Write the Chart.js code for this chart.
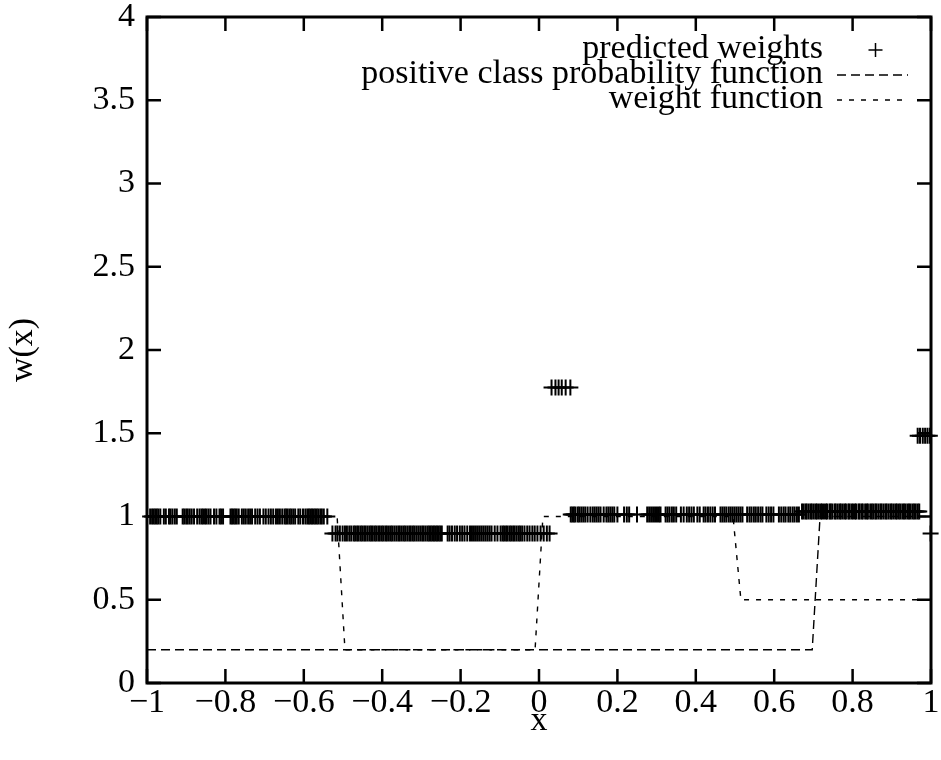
<!DOCTYPE html>
<html>
<head>
<meta charset="utf-8">
<script src="https://cdn.jsdelivr.net/npm/chart.js@4.4.1/dist/chart.umd.min.js"></script>
<style>
  html, body { margin: 0; padding: 0; background: #fff; }
  #wrap { width: 941px; height: 760px; }
</style>
</head>
<body>
<div id="wrap"><canvas id="c" width="941" height="760"></canvas></div>
<script>
// predicted weights: x positions of each cluster, and the level it sits on
const groupLeftX = [-0.992,-0.987,-0.983,-0.979,-0.975,-0.971,-0.966,-0.957,-0.952,-0.944,-0.940,-0.935,-0.929,-0.924,
  -0.909,-0.905,-0.900,-0.896,-0.891,-0.886,-0.880,-0.872,-0.866,-0.861,-0.857,-0.852,-0.848,-0.843,-0.838,-0.829,-0.823,-0.815,-0.811,-0.806,
  -0.787,-0.783,-0.779,-0.775,-0.771,-0.766,-0.758,-0.753,-0.748,-0.742,-0.737,-0.732,-0.724,-0.718,-0.712,-0.703,-0.697,-0.690,-0.684,-0.678,
  -0.671,-0.666,-0.661,-0.655,-0.649,-0.645,-0.641,-0.636,-0.632,-0.627,-0.622,-0.614,-0.609,-0.602,-0.596,-0.591,-0.587,-0.583,-0.579,-0.575,
  -0.571,-0.567,-0.563,-0.558,-0.554,-0.549,-0.540];
const groupLeftY = 1.0;

const groupLowX = [-0.527,-0.519,-0.514,-0.508,-0.501,-0.495,-0.490,-0.484,-0.479,-0.473,-0.469,-0.464,-0.460,-0.455,-0.451,-0.446,-0.442,
  -0.437,-0.432,-0.428,-0.424,-0.419,-0.415,-0.410,-0.406,-0.401,-0.397,-0.392,-0.388,-0.383,-0.378,-0.374,-0.369,-0.364,-0.359,-0.355,-0.350,
  -0.345,-0.341,-0.336,-0.331,-0.327,-0.322,-0.318,-0.313,-0.308,-0.303,-0.298,-0.294,-0.289,-0.284,-0.280,-0.276,-0.272,-0.268,-0.264,-0.260,
  -0.256,-0.252,-0.248,-0.233,-0.228,-0.222,-0.215,-0.209,-0.202,-0.196,-0.190,-0.183,-0.176,-0.171,-0.166,-0.161,-0.156,-0.151,-0.146,-0.141,
  -0.136,-0.131,-0.126,-0.121,-0.113,-0.106,-0.098,-0.093,-0.089,-0.084,-0.080,-0.075,-0.071,-0.066,-0.062,-0.057,-0.052,-0.048,-0.043,-0.037,
  -0.030,-0.024,-0.017,-0.011,-0.004,0.004,0.012,0.020,0.027];
const groupLowY = 0.898;

const groupPeakX = [0.032,0.042,0.050,0.058,0.068,0.080];
const groupPeakY = 1.775;

const groupMidX = [0.081,0.085,0.089,0.093,0.099,0.103,0.108,0.113,0.118,0.124,0.131,0.137,0.142,0.147,0.152,0.157,0.165,0.172,0.177,
  0.182,0.187,0.192,0.200,0.217,0.224,0.230,0.250,0.276,0.281,0.286,0.291,0.296,0.301,0.306,0.310,0.323,0.328,0.333,0.339,0.344,0.350,
  0.362,0.369,0.377,0.383,0.389,0.395,0.404,0.410,0.420,0.425,0.431,0.437,0.443,0.449,0.463,0.468,0.473,0.478,0.484,0.489,0.494,0.499,
  0.504,0.509,0.514,0.519,0.531,0.537,0.542,0.548,0.553,0.559,0.565,0.570,0.580,0.586,0.592,0.598,0.612,0.618,0.624,0.629,0.636,0.641,
  0.647,0.652,0.658,0.663];
const groupMidY = 1.012;

const groupRightX = [0.671,0.675,0.680,0.683,0.688,0.693,0.696,0.701,0.706,0.709,0.714,0.719,0.722,0.727,0.732,0.735,0.741,0.744,0.748,
  0.754,0.757,0.762,0.767,0.770,0.775,0.780,0.783,0.789,0.792,0.797,0.801,0.806,0.809,0.815,0.818,0.823,0.826,0.832,0.836,0.839,0.845,
  0.849,0.853,0.858,0.861,0.866,0.871,0.874,0.879,0.884,0.887,0.892,0.897,0.900,0.905,0.910,0.913,0.918,0.922,0.927,0.931,0.935,0.940,
  0.944,0.948,0.953,0.957,0.961,0.966,0.970];
const groupRightY = 1.03;

const groupEdgeHighX = [0.966,0.972,0.979,0.985,0.991,0.997];
const groupEdgeHighY = 1.485;

const groupEdgeLowX = [0.999];
const groupEdgeLowY = 0.898;

// positive class probability function
const probX = [-1, 0.697, 0.717, 1];
const probY = [0.2, 0.2, 1, 1];

// weight function
const weightX = [-1, -0.515, -0.495, -0.010, 0.010, 0.495, 0.515, 1];
const weightY = [1, 1, 0.2, 0.2, 1, 1, 0.5, 0.5];

const seriesLabels = ['predicted weights', 'positive class probability function', 'weight function'];

const FONT = 'Liberation Serif';
const FSIZE = 34;
const TICK = 14;

function level(xs, yv) { return xs.map(v => ({ x: v, y: yv })); }
function pairs(xs, ys) { return xs.map((v, i) => ({ x: v, y: ys[i] })); }
function fmt(v) { return String(Math.round(v * 10) / 10).replace('-', '\u2212'); }

const points = [].concat(
  level(groupLeftX, groupLeftY), level(groupLowX, groupLowY), level(groupPeakX, groupPeakY),
  level(groupMidX, groupMidY), level(groupRightX, groupRightY),
  level(groupEdgeHighX, groupEdgeHighY), level(groupEdgeLowX, groupEdgeLowY)
);

// gnuplot-like border with inward ticks on all sides
const frame = {
  id: 'frame',
  beforeDatasetsDraw(chart) {
    const { ctx, chartArea: a, scales: { x, y } } = chart;
    ctx.save();
    ctx.strokeStyle = '#000';
    ctx.lineWidth = 2.5;
    ctx.beginPath();
    x.ticks.forEach(t => {
      const px = x.getPixelForValue(t.value);
      ctx.moveTo(px, a.bottom); ctx.lineTo(px, a.bottom - TICK);
      ctx.moveTo(px, a.top); ctx.lineTo(px, a.top + TICK);
    });
    y.ticks.forEach(t => {
      const py = y.getPixelForValue(t.value);
      ctx.moveTo(a.left, py); ctx.lineTo(a.left + TICK, py);
      ctx.moveTo(a.right, py); ctx.lineTo(a.right - TICK, py);
    });
    ctx.stroke();
    ctx.lineWidth = 3;
    ctx.strokeRect(a.left, a.top, a.right - a.left, a.bottom - a.top);
    ctx.restore();
  }
};

// key at top right: text right-aligned, sample to its right
const key = {
  id: 'key',
  afterDraw(chart) {
    const ctx = chart.ctx;
    const textRight = 823, sx0 = 837, sx1 = 908, rows = [50, 75, 100];
    ctx.save();
    ctx.font = FSIZE + 'px "' + FONT + '"';
    ctx.fillStyle = '#000';
    ctx.textAlign = 'right';
    ctx.textBaseline = 'alphabetic';
    chart.data.datasets.forEach((ds, i) => {
      const cy = rows[i];
      ctx.fillText(ds.label, textRight, cy + 8);
      ctx.strokeStyle = '#000';
      ctx.lineWidth = ds.showLine ? ds.borderWidth : 1.5;
      ctx.beginPath();
      if (ds.showLine) {
        ctx.setLineDash(ds.borderDash);
        ctx.moveTo(sx0, cy); ctx.lineTo(sx1, cy);
      } else {
        const cx = (sx0 + sx1) / 2 + 3, r = 7;
        ctx.moveTo(cx - r, cy); ctx.lineTo(cx + r, cy);
        ctx.moveTo(cx, cy - r); ctx.lineTo(cx, cy + r);
      }
      ctx.stroke();
      ctx.setLineDash([]);
    });
    ctx.restore();
  }
};

new Chart(document.getElementById('c'), {
  type: 'scatter',
  data: {
    datasets: [
      {
        label: seriesLabels[0], data: points, showLine: false,
        pointStyle: 'cross', pointRadius: 8, pointBorderWidth: 2,
        borderColor: '#000', backgroundColor: '#000', clip: false
      },
      {
        label: seriesLabels[1], data: pairs(probX, probY), showLine: true,
        pointRadius: 0, borderColor: '#000', borderWidth: 1.4, borderDash: [9, 5], tension: 0
      },
      {
        label: seriesLabels[2], data: pairs(weightX, weightY), showLine: true,
        pointRadius: 0, borderColor: '#000', borderWidth: 1.4, borderDash: [5, 7], tension: 0
      }
    ]
  },
  options: {
    responsive: false,
    devicePixelRatio: 1,
    animation: false,
    layout: { padding: { top: 17, right: 7, left: 0, bottom: 0 } },
    plugins: { legend: { display: false }, tooltip: { enabled: false } },
    scales: {
      x: {
        type: 'linear', min: -1, max: 1,
        afterFit: s => { s.height = 77; s.paddingLeft = 0; s.paddingRight = 0; },
        grid: { display: false, drawTicks: false },
        border: { display: false },
        ticks: { stepSize: 0.2, padding: 0, color: '#000', maxRotation: 0, autoSkip: false,
          font: { family: FONT, size: FSIZE }, callback: v => fmt(v) },
        title: { display: true, text: 'x', color: '#000', padding: { top: 0, bottom: 19 },
          font: { family: FONT, size: FSIZE } }
      },
      y: {
        type: 'linear', min: 0, max: 4,
        afterFit: s => { s.width = 147; s.paddingTop = 0; s.paddingBottom = 0; },
        grid: { display: false, drawTicks: false },
        border: { display: false },
        ticks: { stepSize: 0.5, padding: 12, color: '#000',
          font: { family: FONT, size: FSIZE }, callback: v => fmt(v) },
        title: { display: true, text: 'w(x)', color: '#000', padding: { top: 3, bottom: 0 },
          font: { family: FONT, size: FSIZE } }
      }
    }
  },
  plugins: [frame, key]
});
</script>
</body>
</html>
